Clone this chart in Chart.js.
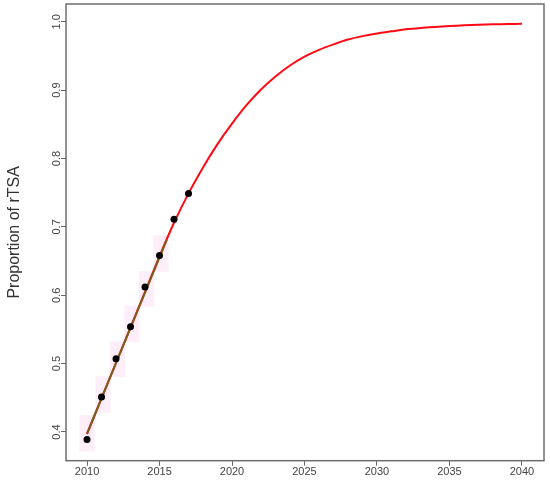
<!DOCTYPE html>
<html>
<head>
<meta charset="utf-8">
<script src="https://cdn.jsdelivr.net/npm/chart.js@4.4.0/dist/chart.umd.min.js"></script>
<style>
  html, body { margin: 0; padding: 0; background: #fff; }
</style>
</head>
<body>
<canvas id="myChart" width="550" height="480"></canvas>
<script>
// predicted proportion (red curve) per year
const years = [2010, 2011, 2012, 2013, 2014, 2015, 2016, 2017, 2018, 2019, 2020,
  2021, 2022, 2023, 2024, 2025, 2026, 2027, 2028, 2029, 2030,
  2031, 2032, 2033, 2034, 2035, 2036, 2037, 2038, 2039, 2040];
const predicted = [0.397, 0.449, 0.501, 0.553, 0.605, 0.657, 0.706, 0.749, 0.787, 0.821, 0.851,
  0.878, 0.901, 0.920, 0.936, 0.949, 0.959, 0.967, 0.974, 0.979, 0.983,
  0.986, 0.989, 0.991, 0.9925, 0.9938, 0.9948, 0.9956, 0.9962, 0.9967, 0.997];

// observed points
const obsYears = [2010, 2011, 2012, 2013, 2014, 2015, 2016, 2017];
const observed = [0.389, 0.451, 0.507, 0.554, 0.612, 0.658, 0.711, 0.749];

// brown fitted line
const fitYears = [2010, 2015.5];
const fitValues = [0.398, 0.681];

// faint pink blocks around the fitted line
const bandX = [2010.0, 2011.1, 2012.1, 2013.1, 2014.1, 2015.1];
const bandLow = [0.372, 0.429, 0.481, 0.532, 0.584, 0.635];
const bandHigh = [0.424, 0.481, 0.532, 0.584, 0.635, 0.687];

const xTicks = [2010, 2015, 2020, 2025, 2030, 2035, 2040];
const yTicks = [0.4, 0.5, 0.6, 0.7, 0.8, 0.9, 1.0];

const font = "'Liberation Sans', Arial, sans-serif";

function pts(xs, ys) {
  return xs.map((x, i) => ({ x: x, y: ys[i] }));
}

const frame = {
  id: "frame",
  afterDraw(chart) {
    const a = chart.chartArea;
    const ctx = chart.ctx;
    ctx.save();
    ctx.strokeStyle = "#6e6e6e";
    ctx.lineWidth = 1.5;
    ctx.strokeRect(a.left, a.top, a.right - a.left, a.bottom - a.top);
    ctx.restore();
  }
};

const ctx = document.getElementById("myChart").getContext("2d");
new Chart(ctx, {
  type: "line",
  data: {
    datasets: [
      {
        label: "observed",
        data: pts(obsYears, observed),
        showLine: false,
        pointRadius: 3.5,
        pointBackgroundColor: "#000",
        pointBorderColor: "#000",
        borderWidth: 0
      },
      {
        label: "fit",
        data: pts(fitYears, fitValues),
        borderColor: "#7d5d1d",
        borderWidth: 2,
        pointRadius: 0
      },
      {
        label: "predicted",
        data: pts(years, predicted),
        borderColor: "#ff0a14",
        borderWidth: 2,
        pointRadius: 0,
        tension: 0.3
      },
      {
        type: "bar",
        label: "band",
        data: bandX.map((x, i) => ({ x: x, y: [bandLow[i], bandHigh[i]] })),
        backgroundColor: "#fdeefa",
        borderWidth: 0,
        barPercentage: 1,
        categoryPercentage: 1
      }
    ]
  },
  options: {
    responsive: false,
    animation: false,
    layout: { padding: { top: 4, right: 6, left: 0, bottom: 0 } },
    plugins: { legend: { display: false }, tooltip: { enabled: false } },
    scales: {
      x: {
        type: "linear",
        offset: false,
        min: 2008.55,
        max: 2041.52,
        afterBuildTicks: s => { s.ticks = xTicks.map(v => ({ value: v })); },
        afterFit: s => { s.height = 19.3; },
        grid: { drawOnChartArea: false, drawTicks: true, tickLength: 5, color: "#666", offset: false },
        border: { display: false },
        ticks: {
          padding: 0,
          maxRotation: 0,
          color: "#444",
          font: { family: font, size: 11 },
          callback: v => String(v)
        }
      },
      y: {
        min: 0.358,
        max: 1.026,
        afterBuildTicks: s => { s.ticks = yTicks.map(v => ({ value: v })); },
        afterFit: s => { s.width = 66; },
        grid: { drawOnChartArea: false, drawTicks: true, tickLength: 5, color: "#666" },
        border: { display: false },
        title: {
          display: true,
          text: "Proportion of rTSA",
          color: "#333",
          font: { family: font, size: 16 },
          padding: { top: 5, bottom: 0 }
        },
        ticks: {
          minRotation: 90,
          maxRotation: 90,
          crossAlign: "center",
          padding: -4,
          color: "#444",
          font: { family: font, size: 11 },
          callback: v => v.toFixed(1)
        }
      }
    }
  },
  plugins: [frame]
});
</script>
</body>
</html>
